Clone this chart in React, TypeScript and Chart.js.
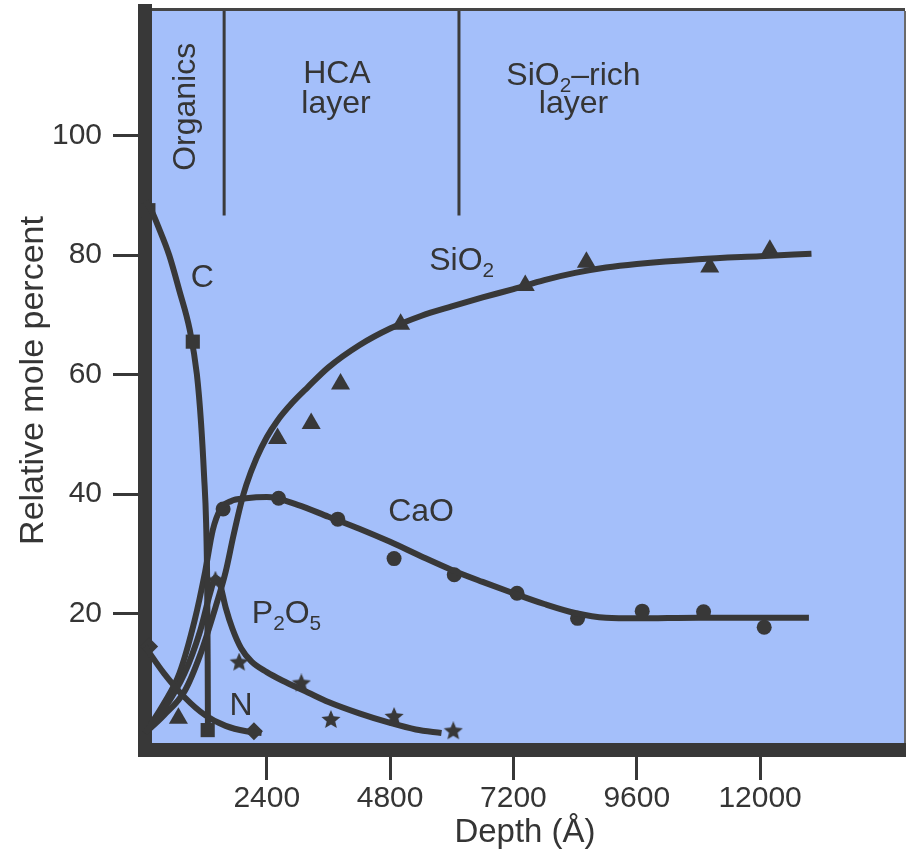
import React, { useEffect, useRef } from "react";
import { Chart, registerables } from "chart.js";

Chart.register(...registerables);

type Pt = [number, number];

// ---------- axes ----------
const X_MIN = 30;
const X_MAX = 14820;
const Y_MIN = -2.83;
const Y_MAX = 120.83;
const X_TICKS = [2400, 4800, 7200, 9600, 12000];
const Y_TICKS = [20, 40, 60, 80, 100];

// ---------- fitted curves (depth Å, mole %) ----------
const C_CURVE: Pt[] = [
  [40, 89], [150, 87.5], [300, 84.5], [500, 80], [700, 74], [900, 67.5],
  [1040, 60], [1120, 52], [1180, 43], [1220, 35], [1240, 25], [1250, 12], [1255, 0],
];
const N_CURVE: Pt[] = [
  [30, 14.5], [400, 10], [800, 6], [1200, 3], [1600, 1.2], [2000, 0.3], [2300, 0],
];
const P2O5_CURVE: Pt[] = [
  [30, 0], [400, 4], [800, 10], [1100, 17], [1300, 23.5], [1400, 26], [1480, 25.2],
  [1600, 21], [1730, 17.5], [1900, 14.2], [2100, 12], [2400, 10.2], [2700, 8.8],
  [3200, 6.8], [3600, 5.2], [4200, 3.3], [4800, 1.7], [5300, 0.6], [5800, 0],
];
const CAO_CURVE: Pt[] = [
  [30, 0], [400, 5], [700, 10], [1000, 19], [1200, 27], [1350, 34], [1500, 37.5],
  [1700, 38.8], [2000, 39.3], [2400, 39.5], [3000, 38.2], [3600, 36.2], [4200, 34.2],
  [4800, 32], [5400, 29.6], [6000, 27.3], [6600, 25.3], [7200, 23.4], [7800, 21.6],
  [8400, 20.1], [9000, 19.3], [9600, 19.2], [10800, 19.3], [12000, 19.3], [12950, 19.3],
];
const SIO2_CURVE: Pt[] = [
  [30, 0], [400, 3], [800, 7], [1100, 13], [1400, 21], [1600, 27], [1750, 33],
  [1900, 38.5], [2000, 41.5], [2200, 46], [2400, 49.5], [2600, 52.2], [2900, 55.3],
  [3200, 57.9], [3600, 61.2], [4200, 64.9], [4800, 67.7], [5400, 69.8], [6000, 71.4],
  [6600, 72.9], [7200, 74.3], [7800, 75.8], [8400, 77], [9000, 77.9], [9600, 78.5],
  [10800, 79.3], [12000, 79.8], [13000, 80.2],
];

// ---------- measured points ----------
const C_POINTS: Pt[] = [[96, 87.5], [960, 65.5], [1250, 0.5]];
const N_POINTS: Pt[] = [[110, 14.5], [2150, 0.3]];
const P2O5_POINTS: Pt[] = [[1400, 25.5], [1862, 11.8], [3072, 8.3], [3648, 2.2], [4877, 2.7], [6029, 0.3]];
const CAO_POINTS: Pt[] = [
  [1550, 37.5], [2630, 39.3], [3782, 35.8], [4877, 29.2], [6048, 26.5], [7270, 23.4],
  [8448, 19.2], [9706, 20.4], [10900, 20.3], [12080, 17.7],
];
const SIO2_POINTS: Pt[] = [
  [680, 2.5], [2610, 49.3], [3264, 51.8], [3835, 58.4], [5005, 68.4], [7430, 74.9],
  [8620, 78.8], [11020, 78], [12190, 80.8],
];

// ---------- layer boundaries ----------
const BOUNDARY_X = [1570, 6140];
const BOUNDARY_BOTTOM = 86.6;

// ---------- labels (text parts: [string, isSubscript]) ----------
type Label = { parts: [string, boolean][]; x: number; y: number; rotate?: boolean };
const LABELS: Label[] = [
  { parts: [["Organics", false]], x: 1011, y: 104.8, rotate: true },
  { parts: [["HCA", false]], x: 3765, y: 108.8 },
  { parts: [["layer", false]], x: 3746, y: 103.8 },
  { parts: [["SiO", false], ["2", true], ["\u2013rich", false]], x: 8369, y: 108.5 },
  { parts: [["layer", false]], x: 8369, y: 103.8 },
  { parts: [["C", false]], x: 1146, y: 74.7 },
  { parts: [["SiO", false], ["2", true]], x: 6192, y: 77.5 },
  { parts: [["CaO", false]], x: 5403, y: 35.5 },
  { parts: [["P", false], ["2", true], ["O", false], ["5", true]], x: 2783, y: 18.5 },
  { parts: [["N", false]], x: 1897, y: 3.0 },
];

const INK = "#383838";
const TEXT = "#353535";
const PLOT_BG = "#a4bffa";
const FONT = '"Liberation Sans", Arial, Helvetica, sans-serif';

const toXY = (pts: Pt[]) => pts.map(([x, y]) => ({ x, y }));

function makeStar(size: number, color: string) {
  const c = document.createElement("canvas");
  c.width = size;
  c.height = size;
  const ctx = c.getContext("2d")!;
  ctx.fillStyle = color;
  ctx.beginPath();
  const cx = size / 2, cy = size / 2, R = size / 2, r = R * 0.45;
  for (let i = 0; i < 10; i++) {
    const a = -Math.PI / 2 + (i * Math.PI) / 5;
    const rad = i % 2 === 0 ? R : r;
    ctx.lineTo(cx + rad * Math.cos(a), cy + rad * Math.sin(a));
  }
  ctx.closePath();
  ctx.fill();
  return c;
}

function drawParts(ctx: CanvasRenderingContext2D, parts: [string, boolean][], size: number) {
  const sub = size * 0.65;
  let total = 0;
  for (const [t, s] of parts) {
    ctx.font = `${s ? sub : size}px ${FONT}`;
    total += ctx.measureText(t).width;
  }
  let x = -total / 2;
  ctx.textAlign = "left";
  ctx.textBaseline = "alphabetic";
  for (const [t, s] of parts) {
    ctx.font = `${s ? sub : size}px ${FONT}`;
    ctx.fillText(t, x, s ? size * 0.22 : 0);
    x += ctx.measureText(t).width;
  }
}

export default function App() {
  const ref = useRef<HTMLCanvasElement>(null);

  useEffect(() => {
    const canvas = ref.current!;
    const star = makeStar(20, INK);

    const curve = (pts: Pt[]) => ({
      data: toXY(pts),
      showLine: true,
      borderColor: INK,
      borderWidth: 6,
      pointRadius: 0,
      cubicInterpolationMode: "monotone" as const,
      fill: false,
      clip: false as any,
    });
    const marks = (pts: Pt[], style: any, radius: number) => ({
      data: toXY(pts),
      showLine: false,
      pointStyle: style,
      pointRadius: radius,
      backgroundColor: INK,
      borderColor: INK,
      borderWidth: 0,
      clip: false as any,
    });
    const boundary = (x: number) => ({
      data: [{ x, y: Y_MAX }, { x, y: BOUNDARY_BOTTOM }],
      showLine: true,
      borderColor: "#3a3a3a",
      borderWidth: 3,
      pointRadius: 0,
      clip: false as any,
    });

    const bgPlugin = {
      id: "bg",
      beforeDraw(chart: any) {
        const { ctx, chartArea: a, width, height } = chart;
        ctx.save();
        ctx.fillStyle = "#ffffff";
        ctx.fillRect(0, 0, width, height);
        ctx.fillStyle = PLOT_BG;
        ctx.fillRect(a.left, a.top, a.right - a.left, a.bottom - a.top);
        ctx.strokeStyle = "#454545";
        ctx.lineWidth = 3;
        ctx.beginPath();
        ctx.moveTo(a.left, a.top - 1.5);
        ctx.lineTo(a.right, a.top - 1.5);
        ctx.stroke();
        ctx.strokeStyle = "#6a6a6a";
        ctx.lineWidth = 2;
        ctx.beginPath();
        ctx.moveTo(a.right, a.top);
        ctx.lineTo(a.right, a.bottom);
        ctx.stroke();
        ctx.restore();
      },
    };

    const labelPlugin = {
      id: "labels",
      afterDatasetsDraw(chart: any) {
        const { ctx, scales } = chart;
        ctx.save();
        ctx.fillStyle = TEXT;
        for (const l of LABELS) {
          const px = scales.x.getPixelForValue(l.x);
          const py = scales.y.getPixelForValue(l.y);
          ctx.save();
          ctx.translate(px, py);
          if (l.rotate) ctx.rotate(-Math.PI / 2);
          drawParts(ctx, l.parts, 32);
          ctx.restore();
        }
        ctx.restore();
      },
    };

    const chart = new Chart(canvas, {
      type: "scatter",
      data: {
        datasets: [
          boundary(BOUNDARY_X[0]),
          boundary(BOUNDARY_X[1]),
          curve(C_CURVE),
          curve(N_CURVE),
          curve(P2O5_CURVE),
          curve(CAO_CURVE),
          curve(SIO2_CURVE),
          marks(C_POINTS, "rect", 10),
          marks(N_POINTS, "rectRot", 9),
          marks(P2O5_POINTS, star, 10),
          marks(CAO_POINTS, "circle", 7.5),
          marks(SIO2_POINTS, "triangle", 11),
        ] as any,
      },
      options: {
        animation: false,
        responsive: false,
        devicePixelRatio: 1,
        events: [],
        layout: { padding: { top: 8, right: 3, left: 0, bottom: 0 } },
        plugins: { legend: { display: false }, tooltip: { enabled: false } },
        scales: {
          x: {
            type: "linear",
            min: X_MIN,
            max: X_MAX,
            afterBuildTicks: (axis: any) => {
              axis.ticks = X_TICKS.map((v) => ({ value: v }));
            },
            afterFit: (s: any) => {
              s.height = 103;
              s.paddingLeft = 0;
              s.paddingRight = 0;
            },
            ticks: {
              autoSkip: false,
              maxRotation: 0,
              padding: 1,
              color: TEXT,
              font: { family: FONT, size: 30 },
              callback: (v: any) => String(v),
            },
            grid: {
              drawOnChartArea: false,
              drawTicks: true,
              tickLength: 30,
              tickWidth: 3,
              tickColor: INK,
              color: INK,
            },
            border: { display: true, width: 14, color: INK },
            title: {
              display: true,
              text: "Depth (\u00c5)",
              color: TEXT,
              font: { family: FONT, size: 33 },
              padding: { top: 0, bottom: 0 },
            },
          },
          y: {
            type: "linear",
            min: Y_MIN,
            max: Y_MAX,
            afterBuildTicks: (axis: any) => {
              axis.ticks = Y_TICKS.map((v) => ({ value: v }));
            },
            afterFit: (s: any) => {
              s.width = 145;
              s.paddingTop = 0;
              s.paddingBottom = 0;
            },
            ticks: {
              autoSkip: false,
              padding: 11,
              color: TEXT,
              font: { family: FONT, size: 30 },
              callback: (v: any) => String(v),
            },
            grid: {
              drawOnChartArea: false,
              drawTicks: true,
              tickLength: 32,
              tickWidth: 3,
              tickColor: INK,
              color: INK,
            },
            border: { display: true, width: 14, color: INK },
            title: {
              display: true,
              text: "Relative mole percent",
              color: TEXT,
              font: { family: FONT, size: 34 },
              padding: { top: 13, bottom: 0 },
            },
          },
        },
      },
      plugins: [bgPlugin, labelPlugin],
    });

    return () => chart.destroy();
  }, []);

  return (
    <div style={{ position: "absolute", left: 0, top: 0, width: 916, height: 853, background: "#fff" }}>
      <canvas ref={ref} width={916} height={853} style={{ display: "block" }} />
    </div>
  );
}
